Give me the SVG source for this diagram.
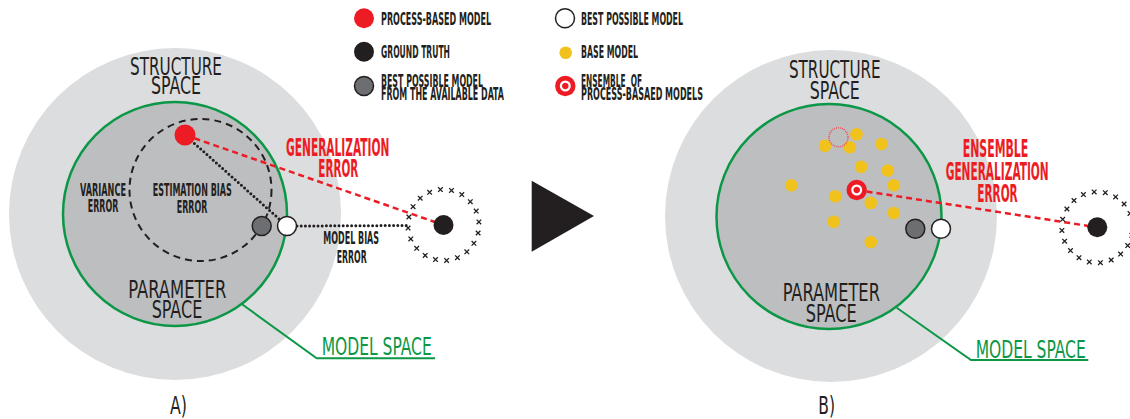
<svg xmlns="http://www.w3.org/2000/svg" xmlns:xlink="http://www.w3.org/1999/xlink" width="1130" height="419" viewBox="0 0 1130 419">
  <style>
    text { font-family: "Liberation Sans Narrow", "DejaVu Sans Condensed", "Liberation Sans", sans-serif; fill: #231f20; text-anchor: middle; }
    .big { font-size: 25px; font-weight: 400; }
    .lbl { font-size: 17px; font-weight: 700; }
    .mid { font-size: 18px; font-weight: 700; }
    .red { font-size: 24px; font-weight: 700; fill: #ed1c24; }
    .grn { font-size: 25px; font-weight: 400; fill: #0c9747; }
    .outer { fill: #dcddde; }
    .inner { fill: #bcbec0; stroke: #0c9747; stroke-width: 2.5; }
    .pbm { fill: #ed1c24; }
    .truth { fill: #231f20; }
    .bestdata { fill: #6d6e71; stroke: #231f20; stroke-width: 1.5; }
    .best { fill: #ffffff; stroke: #231f20; stroke-width: 1.5; }
    .base { fill: #f1c21b; }
    .gen { fill: none; stroke: #ed1c24; stroke-width: 2.5; stroke-dasharray: 6 4; }
    .dots { fill: none; stroke: #231f20; stroke-width: 3; stroke-dasharray: 0 4.2; stroke-linecap: round; }
    .lead { fill: none; stroke: #0c9747; stroke-width: 2; }
    .xm { fill: none; stroke: #231f20; stroke-width: 1.3; }
  </style>
  <defs>
    <path id="x" class="xm" d="M-2.3,-2.3 L2.3,2.3 M2.3,-2.3 L-2.3,2.3"/>
    <!-- ring of crosses drawn around the ground truth -->
    <g id="ring">
      <use xlink:href="#x" x="34.6" y="8.0"/>
      <use xlink:href="#x" x="30.4" y="18.3"/>
      <use xlink:href="#x" x="23.3" y="26.8"/>
      <use xlink:href="#x" x="13.9" y="32.7"/>
      <use xlink:href="#x" x="3.1" y="35.4"/>
      <use xlink:href="#x" x="-8.0" y="34.6"/>
      <use xlink:href="#x" x="-18.3" y="30.4"/>
      <use xlink:href="#x" x="-26.8" y="23.3"/>
      <use xlink:href="#x" x="-32.7" y="13.9"/>
      <use xlink:href="#x" x="-35.4" y="3.1"/>
      <use xlink:href="#x" x="-34.6" y="-8.0"/>
      <use xlink:href="#x" x="-30.4" y="-18.3"/>
      <use xlink:href="#x" x="-23.3" y="-26.8"/>
      <use xlink:href="#x" x="-13.9" y="-32.7"/>
      <use xlink:href="#x" x="-3.1" y="-35.4"/>
      <use xlink:href="#x" x="8.0" y="-34.6"/>
      <use xlink:href="#x" x="18.3" y="-30.4"/>
      <use xlink:href="#x" x="26.8" y="-23.3"/>
      <use xlink:href="#x" x="32.7" y="-13.9"/>
      <use xlink:href="#x" x="35.4" y="-3.1"/>
    </g>
    <!-- ensemble marker: red disc with a white ring -->
    <g id="target">
      <circle r="10.2" fill="#ed1c24"/>
      <circle r="4.4" fill="#ed1c24" stroke="#ffffff" stroke-width="2.2"/>
    </g>
  </defs>

  <!-- legend -->
  <g id="legend">
    <g id="legend-pbm">
      <circle class="pbm" cx="364" cy="18.3" r="10"/>
      <text class="lbl" x="436" y="25" textLength="110" lengthAdjust="spacingAndGlyphs">PROCESS-BASED MODEL</text>
    </g>
    <g id="legend-truth">
      <circle class="truth" cx="364" cy="51.7" r="10"/>
      <text class="lbl" x="415.5" y="58.3" textLength="69" lengthAdjust="spacingAndGlyphs">GROUND TRUTH</text>
    </g>
    <g id="legend-bestdata">
      <circle class="bestdata" cx="364" cy="86" r="9.5"/>
      <text class="lbl" x="432" y="87.3" textLength="102" lengthAdjust="spacingAndGlyphs">BEST POSSIBLE MODEL</text>
      <text class="lbl" x="442.5" y="100" textLength="123" lengthAdjust="spacingAndGlyphs">FROM THE AVAILABLE DATA</text>
    </g>
    <g id="legend-best">
      <circle class="best" cx="565" cy="18.3" r="9.5"/>
      <text class="lbl" x="632" y="25" textLength="102" lengthAdjust="spacingAndGlyphs">BEST POSSIBLE MODEL</text>
    </g>
    <g id="legend-base">
      <circle class="base" cx="565.7" cy="52.7" r="6.3"/>
      <text class="lbl" x="609.5" y="58.3" textLength="57" lengthAdjust="spacingAndGlyphs">BASE MODEL</text>
    </g>
    <g id="legend-ensemble">
      <use xlink:href="#target" x="565.3" y="86"/>
      <text class="lbl" x="611.5" y="87.3" textLength="61" lengthAdjust="spacingAndGlyphs" xml:space="preserve">ENSEMBLE  OF</text>
      <text class="lbl" x="642" y="100" textLength="122" lengthAdjust="spacingAndGlyphs">PROCESS-BASAED MODELS</text>
    </g>
  </g>

  <!-- panel A: spaces -->
  <g id="a-structure-space">
    <circle class="outer" cx="175" cy="214" r="166"/>
    <text class="big" x="176" y="75" textLength="92" lengthAdjust="spacingAndGlyphs">STRUCTURE</text>
    <text class="big" x="176" y="94" textLength="50" lengthAdjust="spacingAndGlyphs">SPACE</text>
  </g>
  <g id="a-parameter-space">
    <circle class="inner" cx="175" cy="214" r="112"/>
    <text class="big" x="177.3" y="298" textLength="98" lengthAdjust="spacingAndGlyphs">PARAMETER</text>
    <text class="big" x="177" y="318" textLength="50.6" lengthAdjust="spacingAndGlyphs">SPACE</text>
  </g>
  <g id="a-estimation">
    <circle cx="200.5" cy="190" r="71" fill="none" stroke="#231f20" stroke-width="2" stroke-dasharray="7 5"/>
    <text class="mid" x="103" y="196" textLength="46" lengthAdjust="spacingAndGlyphs">VARIANCE</text>
    <text class="mid" x="103" y="212" textLength="30.6" lengthAdjust="spacingAndGlyphs">ERROR</text>
    <text class="mid" x="192.2" y="196" textLength="79" lengthAdjust="spacingAndGlyphs">ESTIMATION BIAS</text>
    <text class="mid" x="192" y="213" textLength="30.6" lengthAdjust="spacingAndGlyphs">ERROR</text>
  </g>

  <!-- panel B: spaces -->
  <g id="b-structure-space">
    <circle class="outer" cx="831" cy="216" r="166"/>
    <text class="big" x="834.8" y="78.3" textLength="91.7" lengthAdjust="spacingAndGlyphs">STRUCTURE</text>
    <text class="big" x="834.7" y="99" textLength="50" lengthAdjust="spacingAndGlyphs">SPACE</text>
  </g>
  <g id="b-parameter-space">
    <circle class="inner" cx="829" cy="216.5" r="112.5"/>
    <text class="big" x="831.3" y="300.7" textLength="97.3" lengthAdjust="spacingAndGlyphs">PARAMETER</text>
    <text class="big" x="831.2" y="321.7" textLength="51" lengthAdjust="spacingAndGlyphs">SPACE</text>
  </g>

  <!-- connectors -->
  <g id="connectors">
    <line class="gen" x1="185" y1="135" x2="443.5" y2="225"/>
    <line class="dots" x1="185" y1="135" x2="287" y2="226"/>
    <line class="dots" x1="297" y1="226" x2="408" y2="225.5"/>
    <polyline class="lead" points="241.7,304 316.7,358.3 435,358.3"/>
    <line class="gen" x1="856.7" y1="190" x2="1097.3" y2="227.3"/>
    <polyline class="lead" points="896.7,307.7 971,360 1088.3,360"/>
  </g>

  <!-- panel A: labels on connectors -->
  <g id="a-labels">
    <text class="red" x="337.7" y="156" textLength="103.3" lengthAdjust="spacingAndGlyphs">GENERALIZATION</text>
    <text class="red" x="338.3" y="177.3" textLength="40" lengthAdjust="spacingAndGlyphs">ERROR</text>
    <text class="lbl" x="351.2" y="244.3" textLength="55.7" lengthAdjust="spacingAndGlyphs">MODEL BIAS</text>
    <text class="lbl" x="351.7" y="262.7" textLength="30" lengthAdjust="spacingAndGlyphs">ERROR</text>
    <text class="grn" x="376.7" y="355" textLength="110" lengthAdjust="spacingAndGlyphs">MODEL SPACE</text>
    <text class="big" x="178.5" y="414" textLength="17" lengthAdjust="spacingAndGlyphs">A)</text>
  </g>

  <!-- panel A: models -->
  <g id="a-pbm"><circle class="pbm" cx="185" cy="135" r="10.5"/></g>
  <g id="a-bestdata"><circle class="bestdata" cx="261.7" cy="226" r="9.5"/></g>
  <g id="a-best"><circle class="best" cx="287" cy="226" r="9.5"/></g>
  <g id="a-truth">
    <use xlink:href="#ring" x="443.5" y="225"/>
    <circle class="truth" cx="443.5" cy="225" r="10"/>
  </g>

  <!-- arrow between panels -->
  <g id="arrow"><polygon points="531.7,180.7 531.7,251.7 594,216" fill="#231f20"/></g>

  <!-- panel B: labels -->
  <g id="b-labels">
    <text class="red" x="995.5" y="157.3" textLength="65.6" lengthAdjust="spacingAndGlyphs">ENSEMBLE</text>
    <text class="red" x="997.2" y="180" textLength="103" lengthAdjust="spacingAndGlyphs">GENERALIZATION</text>
    <text class="red" x="997.5" y="202.3" textLength="40.4" lengthAdjust="spacingAndGlyphs">ERROR</text>
    <text class="grn" x="1030.7" y="358" textLength="110" lengthAdjust="spacingAndGlyphs">MODEL SPACE</text>
    <text class="big" x="826.7" y="414" textLength="16.7" lengthAdjust="spacingAndGlyphs">B)</text>
  </g>

  <!-- panel B: base models and ensemble -->
  <g id="b-base-models">
    <circle class="base" cx="856.5" cy="134.3" r="6.3"/>
    <circle class="base" cx="825" cy="145.7" r="6.3"/>
    <circle class="base" cx="849.7" cy="147.2" r="6.3"/>
    <circle class="base" cx="881.5" cy="144" r="6.3"/>
    <circle class="base" cx="861.2" cy="166.8" r="6.3"/>
    <circle class="base" cx="887.8" cy="170.5" r="6.3"/>
    <circle class="base" cx="791.3" cy="185.3" r="6.3"/>
    <circle class="base" cx="893.7" cy="185.3" r="6.3"/>
    <circle class="base" cx="835.3" cy="196.3" r="6.3"/>
    <circle class="base" cx="870.8" cy="203" r="6.3"/>
    <circle class="base" cx="893.7" cy="213" r="6.3"/>
    <circle class="base" cx="833.7" cy="221.8" r="6.3"/>
    <circle class="base" cx="870.8" cy="242" r="6.3"/>
  </g>
  <g id="b-pbm-ghost"><circle cx="838.5" cy="137.3" r="9.5" fill="none" stroke="#ee4f58" stroke-width="1.5" stroke-dasharray="1 1"/></g>
  <g id="b-ensemble"><use xlink:href="#target" x="856.7" y="190"/></g>
  <g id="b-bestdata"><circle class="bestdata" cx="915.3" cy="228.7" r="9.5"/></g>
  <g id="b-best"><circle class="best" cx="941" cy="228.7" r="9.5"/></g>
  <g id="b-truth">
    <use xlink:href="#ring" x="1097.3" y="227.3"/>
    <circle class="truth" cx="1097.3" cy="227.3" r="10"/>
  </g>
</svg>
